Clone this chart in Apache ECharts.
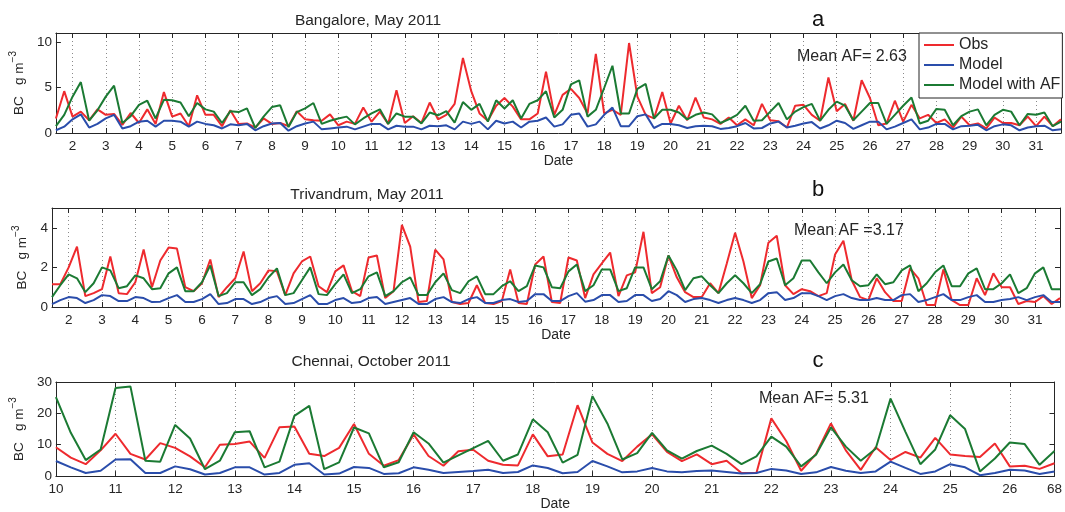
<!DOCTYPE html>
<html><head><meta charset="utf-8">
<script src="https://cdn.jsdelivr.net/npm/echarts@6/dist/echarts.min.js"></script>
<style>html,body{margin:0;padding:0;background:#fff}#c{width:1065px;height:512px}</style>
</head><body><div id="c"></div>
<script>
// ---- time axes (6-hourly samples, day of month) ----
function quarterDays(start, end){ const out=[]; for(let k=0; start+k*0.25<=end+1e-9; k++){ out.push(String(Math.round((start+k*0.25)*100)/100)); } return out; }
const daysMay = quarterDays(1.5, 31.75);
const daysOct = quarterDays(10, 26.75);
const lastOctLabel = '68';

// ---- Bangalore, May 2011 (from 1.5 to 31.75) ----
const bangaloreObs = [1.6,4.6,
 1.8,2.35,1.4,2.6, 2.0,2.1,0.9,2.2, 1.1,2.6,1.0,4.5, 1.8,2.15,0.75,4.15, 2.0,2.0,0.75,2.5,
 1.0,1.05,0.6,1.6, 1.0,1.1,0.75,2.4, 1.5,1.4,1.35,2.05, 0.85,1.25,1.0,2.8, 1.25,2.35,1.0,4.7,
 1.1,1.85,1.1,3.35, 1.5,2.0,3.2,8.25, 4.6,2.15,1.35,3.0, 3.85,2.9,1.5,1.5, 2.15,6.75,2.0,4.2,
 4.85,3.85,2.15,8.7, 2.15,2.55,2.0,9.9, 4.0,2.0,1.6,4.5, 1.05,3.0,1.4,3.9, 1.7,1.5,1.0,1.7,
 0.85,1.5,0.85,3.2, 1.4,1.3,0.6,3.0, 3.1,2.0,1.35,6.1, 2.4,3.2,1.35,5.8, 3.85,0.85,1.05,3.55,
 1.25,3.1,1.6,2.0, 1.1,1.5,0.6,1.8, 0.85,1.05,0.5,1.7, 1.1,1.1,0.85,1.8, 0.75,1.8,0.75,1.5];
const bangaloreModel = [0.3,0.7,
 1.5,2.05,0.6,1.0, 1.6,2.0,0.5,0.75, 1.25,1.35,0.7,1.35, 1.35,1.25,0.7,1.25, 1.0,0.85,0.5,0.95,
 0.85,1.0,0.3,0.75, 1.05,1.1,0.25,0.75, 1.05,1.25,0.4,0.5, 0.6,0.7,0.4,0.7, 1.0,1.0,0.4,0.8,
 0.7,0.7,0.4,0.8, 0.75,0.85,0.4,1.25, 1.0,1.25,0.4,1.35, 1.05,1.25,0.6,1.25, 1.35,1.7,0.7,0.95,
 2.0,2.15,0.7,0.95, 2.0,2.8,0.75,0.75, 1.85,2.05,0.55,1.0, 1.0,0.85,0.55,0.75, 0.8,0.75,0.45,0.55,
 0.75,1.1,0.5,0.55, 1.05,1.25,0.6,0.8, 1.05,1.2,0.5,0.85, 1.35,1.1,0.45,0.85, 1.25,1.25,0.4,0.7,
 1.1,1.5,0.4,0.6, 1.0,1.0,0.4,0.75, 0.8,0.9,0.3,0.75, 0.95,0.85,0.3,0.6, 0.75,0.8,0.3,0.4];
const bangaloreModelAF = [0.75,2.0,
 4.0,5.6,1.35,2.5, 4.0,5.2,1.1,1.85, 3.1,3.55,1.6,3.65, 3.6,3.35,1.85,3.3, 2.6,2.35,1.1,2.4,
 2.3,2.7,0.55,1.8, 2.85,3.05,0.65,2.3, 2.7,3.3,1.0,1.35, 1.6,1.8,0.95,1.6, 2.15,2.6,1.0,2.15,
 1.8,1.8,1.05,2.25, 1.95,2.4,1.15,3.4, 2.55,3.2,1.25,3.6, 2.7,3.6,1.6,3.2, 3.6,4.6,1.7,2.55,
 5.35,5.8,1.8,2.55, 4.95,7.4,2.15,2.15, 4.85,5.4,1.6,2.55, 2.55,2.25,1.5,2.0, 2.25,2.05,1.1,1.5,
 2.0,3.0,1.35,1.4, 2.35,3.3,1.5,2.35, 2.85,3.2,1.35,2.55, 3.45,3.0,1.4,2.35, 3.3,3.3,1.0,2.0,
 3.0,3.9,1.05,1.35, 2.65,2.55,0.85,1.85, 2.35,2.6,0.85,2.0, 2.55,2.35,0.85,2.1, 2.0,2.25,0.75,1.25];

// ---- Trivandrum, May 2011 ----
const trivandrumObs = [1.15,1.15,
 2.0,3.05,0.55,0.7, 0.9,2.55,0.7,0.65, 1.25,2.9,1.0,2.35, 3.0,2.95,1.0,0.8, 1.2,2.4,0.5,1.0,
 1.45,2.8,0.8,1.2, 1.85,1.8,0.6,1.7, 2.3,2.55,1.05,0.75, 1.8,2.1,0.8,0.55, 2.5,2.6,0.45,0.8,
 4.15,3.05,0.25,0.3, 2.9,2.4,0.25,0.15, 0.2,1.1,0.2,0.15, 0.3,1.9,0.2,0.15, 2.15,2.55,0.25,0.2,
 2.5,2.35,0.45,1.65, 2.2,2.75,0.55,1.6, 1.75,3.8,0.7,1.0, 2.6,1.5,0.75,0.5, 0.5,1.2,0.7,2.2,
 3.75,2.3,0.45,1.1, 3.25,3.6,1.1,0.65, 0.9,0.8,0.55,0.7, 2.65,3.35,1.35,0.5, 0.35,1.45,0.75,0.3,
 0.3,1.95,1.45,0.1, 0.1,1.9,0.35,0.1, 0.1,1.45,0.6,1.7, 1.0,1.0,0.15,0.3, 0.25,0.55,0.15,0.45];
const trivandrumModel = [0.15,0.35,
 0.5,0.45,0.2,0.35, 0.6,0.55,0.3,0.3, 0.5,0.45,0.25,0.27, 0.45,0.6,0.25,0.25, 0.4,0.65,0.15,0.2,
 0.4,0.4,0.15,0.25, 0.45,0.55,0.15,0.2, 0.4,0.6,0.15,0.15, 0.35,0.45,0.2,0.25, 0.45,0.5,0.15,0.25,
 0.35,0.45,0.15,0.15, 0.4,0.5,0.25,0.2, 0.4,0.5,0.2,0.2, 0.35,0.4,0.25,0.3, 0.65,0.65,0.3,0.3,
 0.55,0.7,0.27,0.35, 0.6,0.6,0.25,0.3, 0.6,0.6,0.3,0.4, 0.8,0.6,0.25,0.4, 0.45,0.35,0.2,0.35,
 0.45,0.35,0.2,0.35, 0.7,0.75,0.35,0.45, 0.7,0.7,0.55,0.35, 0.55,0.65,0.45,0.35, 0.35,0.45,0.35,0.35,
 0.6,0.65,0.25,0.35, 0.5,0.65,0.35,0.35, 0.5,0.6,0.25,0.25, 0.35,0.4,0.5,0.35, 0.5,0.6,0.25,0.25];
const trivandrumModelAF = [0.5,1.1,
 1.65,1.45,0.75,1.2, 2.0,1.85,0.95,1.05, 1.6,1.45,0.9,0.95, 1.7,2.0,0.8,0.8, 1.25,2.1,0.55,0.7,
 1.25,1.25,0.6,0.9, 1.5,1.95,0.6,0.7, 1.35,2.0,0.65,0.6, 1.15,1.65,0.7,0.9, 1.55,1.75,0.55,0.8,
 1.25,1.5,0.6,0.6, 1.25,1.7,0.85,0.7, 1.3,1.55,0.65,0.65, 1.05,1.3,0.8,1.05, 2.1,2.0,1.0,0.95,
 1.8,2.15,0.8,1.1, 1.9,1.9,0.8,0.95, 2.0,2.0,0.9,1.3, 2.6,1.85,0.85,1.45, 1.55,1.1,0.7,1.2,
 1.6,1.2,0.7,1.15, 2.3,2.45,1.1,1.45, 2.35,2.35,1.75,1.2, 1.75,2.15,1.35,1.05, 1.1,1.65,1.15,1.25,
 1.85,2.1,0.8,1.2, 1.75,2.1,1.05,1.05, 1.7,1.95,0.9,0.9, 1.2,1.65,0.7,0.95, 1.7,2.0,0.9,0.9];

// ---- Chennai, October 2011 (from 10 to 26.75) ----
const chennaiObs = [
 9.2,5.9,3.8,8.2, 13.5,7.1,5.3,10.5, 9.0,6.3,2.8,10.0, 10.2,11.0,5.8,15.6, 15.8,7.1,6.4,9.0,
 16.6,7.1,3.3,5.1, 13.3,6.4,3.3,7.9, 8.4,4.9,3.6,3.4, 13.3,6.3,6.9,22.6, 10.7,7.1,4.8,9.4,
 13.3,7.7,4.8,6.9, 3.8,4.9,1.0,1.0, 18.4,11.2,1.7,7.1, 16.8,8.2,2.0,9.2, 5.1,7.7,5.9,12.2,
 6.9,6.4,6.1,10.4, 3.1,3.3,2.3,4.1];
const chennaiModel = [
 4.8,2.8,1.0,1.7, 5.3,5.4,1.0,1.0, 3.1,2.2,0.5,1.0, 2.8,2.8,0.5,1.0, 3.6,4.1,0.5,0.8,
 2.9,2.6,0.7,0.9, 2.8,2.0,1.0,1.3, 1.6,2.0,1.0,1.3, 3.4,2.6,0.9,1.3, 4.8,3.1,1.2,1.5,
 2.6,1.5,1.2,1.6, 1.8,1.3,0.8,1.0, 2.3,1.8,0.7,1.2, 2.9,1.7,1.0,1.5, 4.6,2.6,0.7,1.5,
 3.8,2.8,0.3,1.0, 2.0,1.8,0.7,1.5];
const chennaiModelAF = [
 25.2,13.8,5.1,8.5, 28.1,28.6,4.9,4.6, 16.3,12.0,2.2,4.9, 14.0,14.3,2.8,4.6, 19.2,22.4,2.2,4.4,
 15.5,13.6,2.8,4.4, 14.0,10.4,4.3,6.6, 8.9,11.2,4.9,6.9, 18.1,14.0,4.3,6.8, 25.5,16.8,5.3,7.3,
 13.8,8.2,5.6,8.0, 9.7,7.1,3.8,6.3, 12.6,9.4,3.1,6.8, 15.5,9.4,4.9,8.7, 24.7,14.1,3.8,8.5,
 19.4,15.0,1.5,5.6, 10.7,10.2,3.6,8.0];

// ---- texts ----
const panelTitles = ['Bangalore, May 2011','Trivandrum, May 2011','Chennai, October 2011'];
const panelLetters = ['a','b','c'];
const meanAF = ['Mean AF= 2.63','Mean AF =3.17','Mean AF= 5.31'];
const seriesNames = ['Obs','Model','Model with AF'];

// ---- styling ----
const FONT = 'Liberation Sans, Arial, Helvetica, sans-serif';
const AX = '#262626';
const COLORS = ['#ee2a2e','#2a4dab','#1b7a33'];

const grids = [
  {left:52, right:4, top:33, height:100},
  {left:52, right:5, top:208, height:99},
  {left:54, right:6, top:382, height:97}
];
const yCfg = [{max:11, interval:5},{max:5, interval:2},{max:30, interval:10}];
const cats = [daysMay, daysMay, daysOct];
const data = [
  [bangaloreObs, bangaloreModel, bangaloreModelAF],
  [trivandrumObs, trivandrumModel, trivandrumModelAF],
  [chennaiObs, chennaiModel, chennaiModelAF]
];

const isInt = v => Math.abs(Number(v) - Math.round(Number(v))) < 1e-9;

const xAxis = [], yAxis = [], series = [];
for (let p = 0; p < 3; p++) {
  const c = cats[p];
  const lastIdx = c.length - 1;
  const showLast = (p === 2);
  xAxis.push({
    type:'category', gridIndex:p, data:c, boundaryGap:false, position:'bottom',
    axisLine:{show:true, onZero:false, lineStyle:{color:AX, width:1}},
    axisTick:{show:true, inside:true, length:5, interval:(i,v)=>isInt(v), lineStyle:{color:AX}},
    axisLabel:{show:true, interval:(i,v)=>isInt(v) || (showLast && i===lastIdx),
      formatter:(v,i)=> (showLast && i===lastIdx) ? lastOctLabel : v,
      margin:6, color:AX, fontSize:13.5, fontFamily:FONT},
    splitLine:{show:true, interval:(i,v)=>isInt(v) && i!==0, lineStyle:{type:[1,3], color:'#8a8a8a', width:1}},
    name:'Date', nameLocation:'middle', nameGap:20,
    nameTextStyle:{color:AX, fontSize:14, fontFamily:FONT}
  });
  xAxis.push({
    type:'category', gridIndex:p, data:c, boundaryGap:false, position:'top',
    axisLine:{show:true, onZero:false, lineStyle:{color:AX, width:1}},
    axisTick:{show:true, inside:true, length:5, interval:(i,v)=>isInt(v), lineStyle:{color:AX}},
    axisLabel:{show:false}, splitLine:{show:false}
  });
  const yc = yCfg[p];
  yAxis.push({
    type:'value', gridIndex:p, min:0, max:yc.max, interval:yc.interval, position:'left',
    axisLine:{show:true, onZero:false, lineStyle:{color:AX, width:1}},
    axisTick:{show:true, inside:true, length:5, lineStyle:{color:AX}},
    axisLabel:{formatter:v => (Math.abs(v % yc.interval) < 1e-9 ? String(v) : ''), margin:4, color:AX, fontSize:13.5, fontFamily:FONT},
    splitLine:{show:false},
    name:'{n|BC   g m}{s|−3}', nameLocation:'middle', nameRotate:90, nameGap:19,
    nameTextStyle:{color:AX, fontFamily:FONT, rich:{
      n:{fontSize:13.5, fontFamily:FONT, color:AX, lineHeight:18, verticalAlign:'bottom'},
      s:{fontSize:10, fontFamily:FONT, color:AX, lineHeight:18, verticalAlign:'top'}}}
  });
  yAxis.push({
    type:'value', gridIndex:p, min:0, max:yc.max, interval:yc.interval, position:'right',
    axisLine:{show:true, onZero:false, lineStyle:{color:AX, width:1}},
    axisTick:{show:true, inside:true, length:5, lineStyle:{color:AX}},
    axisLabel:{show:false}, splitLine:{show:false}
  });
  for (let s = 0; s < 3; s++) {
    series.push({
      type:'line', name:seriesNames[s], xAxisIndex:2*p, yAxisIndex:2*p,
      data:data[p][s], showSymbol:false, symbol:'none', smooth:false,
      lineStyle:{color:COLORS[s], width:2}, itemStyle:{color:COLORS[s]},
      animation:false, z:2+s
    });
  }
}

const graphic = [];
const titlePos = [[368,21],[367,195],[371,362]];
const letterPos = [[818,20],[818,190],[818,361]];
const meanPos = [[797,57],[794,231],[759,399]];
for (let p = 0; p < 3; p++) {
  graphic.push({type:'text', x:titlePos[p][0], y:titlePos[p][1], z:100,
    style:{text:panelTitles[p], font:'15.5px '+FONT, fill:AX, align:'center', verticalAlign:'middle'}});
  graphic.push({type:'text', x:letterPos[p][0], y:letterPos[p][1], z:100,
    style:{text:panelLetters[p], font:'22px '+FONT, fill:'#111', align:'center', verticalAlign:'middle'}});
  graphic.push({type:'text', x:meanPos[p][0], y:meanPos[p][1], z:100,
    style:{text:meanAF[p], font:'16px '+FONT, fill:AX, align:'left', verticalAlign:'middle'}});
}

const chart = echarts.init(document.getElementById('c'), null, {renderer:'canvas'});
chart.setOption({
  backgroundColor:'#fff',
  animation:false,
  grid:grids,
  xAxis, yAxis, series, graphic,
  legend:{
    data:seriesNames, orient:'vertical', left:919, top:33,
    icon:'rect', itemWidth:30, itemHeight:2, itemGap:4,
    padding:[4,2,5,5], borderColor:'#222', borderWidth:1, backgroundColor:'#fff',
    textStyle:{color:AX, fontSize:16, fontFamily:FONT, padding:[0,0,0,0]},
    selectedMode:false, z:50
  }
});
</script></body></html>
